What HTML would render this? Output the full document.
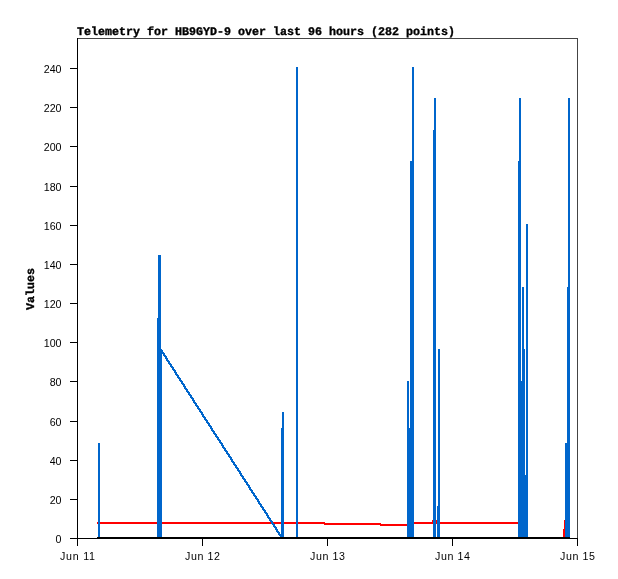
<!DOCTYPE html>
<html><head><meta charset="utf-8"><title>Telemetry for HB9GYD-9</title>
<style>
html,body{margin:0;padding:0;background:#fff;}
svg{display:block;}
.t{font-family:"Liberation Sans",sans-serif;font-size:10.67px;fill:#000;}
.b{font-family:"Liberation Mono",monospace;font-weight:bold;text-rendering:geometricPrecision;font-size:11.67px;fill:#000;stroke:#000;stroke-width:0.35px;}
</style></head><body>
<svg width="618" height="579" viewBox="0 0 618 579">
<rect x="0" y="0" width="618" height="579" fill="#fff"/>
<g shape-rendering="crispEdges">
<rect x="97" y="522" width="228" height="2" fill="#ff0000"/>
<rect x="324" y="523" width="57" height="2" fill="#ff0000"/>
<rect x="380" y="524" width="28" height="2" fill="#ff0000"/>
<rect x="413" y="522" width="106" height="2" fill="#ff0000"/>
<rect x="432" y="520" width="1" height="4" fill="#ff0000"/>
<rect x="436" y="520" width="1" height="4" fill="#ff0000"/>
<rect x="563" y="529" width="1" height="10" fill="#ff0000"/>
<rect x="564" y="520" width="1" height="19" fill="#ff0000"/>
<rect x="98" y="443" width="2" height="96" fill="#0066cc"/>
<rect x="158" y="255" width="3" height="284" fill="#0066cc"/>
<rect x="157" y="318" width="1" height="221" fill="#0066cc"/>
<rect x="161" y="349" width="1" height="190" fill="#0066cc"/>
<rect x="282" y="412" width="2" height="127" fill="#0066cc"/>
<rect x="281" y="428" width="1" height="111" fill="#0066cc"/>
<rect x="296" y="67" width="2" height="472" fill="#0066cc"/>
<rect x="412" y="67" width="2" height="472" fill="#0066cc"/>
<rect x="410" y="161" width="2" height="378" fill="#0066cc"/>
<rect x="407" y="381" width="2" height="158" fill="#0066cc"/>
<rect x="409" y="428" width="1" height="111" fill="#0066cc"/>
<rect x="434" y="98" width="2" height="441" fill="#0066cc"/>
<rect x="433" y="130" width="1" height="409" fill="#0066cc"/>
<rect x="438" y="349" width="2" height="190" fill="#0066cc"/>
<rect x="437" y="506" width="1" height="33" fill="#0066cc"/>
<rect x="519" y="98" width="2" height="441" fill="#0066cc"/>
<rect x="518" y="161" width="1" height="378" fill="#0066cc"/>
<rect x="522" y="287" width="2" height="252" fill="#0066cc"/>
<rect x="524" y="349" width="1" height="190" fill="#0066cc"/>
<rect x="521" y="381" width="1" height="158" fill="#0066cc"/>
<rect x="526" y="224" width="2" height="315" fill="#0066cc"/>
<rect x="525" y="475" width="1" height="64" fill="#0066cc"/>
<rect x="568" y="98" width="2" height="441" fill="#0066cc"/>
<rect x="567" y="287" width="1" height="252" fill="#0066cc"/>
<rect x="565" y="443" width="2" height="96" fill="#0066cc"/>
<rect x="159" y="349" width="3" height="1" fill="#0066cc"/>
<rect x="160" y="350" width="3" height="1" fill="#0066cc"/>
<rect x="161" y="351" width="2" height="1" fill="#0066cc"/>
<rect x="161" y="352" width="3" height="1" fill="#0066cc"/>
<rect x="162" y="353" width="3" height="1" fill="#0066cc"/>
<rect x="163" y="354" width="2" height="1" fill="#0066cc"/>
<rect x="163" y="355" width="3" height="1" fill="#0066cc"/>
<rect x="164" y="356" width="3" height="1" fill="#0066cc"/>
<rect x="165" y="357" width="2" height="1" fill="#0066cc"/>
<rect x="165" y="358" width="3" height="1" fill="#0066cc"/>
<rect x="166" y="359" width="2" height="1" fill="#0066cc"/>
<rect x="166" y="360" width="3" height="1" fill="#0066cc"/>
<rect x="167" y="361" width="3" height="1" fill="#0066cc"/>
<rect x="168" y="362" width="2" height="1" fill="#0066cc"/>
<rect x="168" y="363" width="3" height="1" fill="#0066cc"/>
<rect x="169" y="364" width="3" height="1" fill="#0066cc"/>
<rect x="170" y="365" width="2" height="1" fill="#0066cc"/>
<rect x="170" y="366" width="3" height="1" fill="#0066cc"/>
<rect x="171" y="367" width="3" height="1" fill="#0066cc"/>
<rect x="172" y="368" width="2" height="1" fill="#0066cc"/>
<rect x="172" y="369" width="3" height="1" fill="#0066cc"/>
<rect x="173" y="370" width="3" height="1" fill="#0066cc"/>
<rect x="174" y="371" width="2" height="1" fill="#0066cc"/>
<rect x="174" y="372" width="3" height="1" fill="#0066cc"/>
<rect x="175" y="373" width="2" height="1" fill="#0066cc"/>
<rect x="175" y="374" width="3" height="1" fill="#0066cc"/>
<rect x="176" y="375" width="3" height="1" fill="#0066cc"/>
<rect x="177" y="376" width="2" height="1" fill="#0066cc"/>
<rect x="177" y="377" width="3" height="1" fill="#0066cc"/>
<rect x="178" y="378" width="3" height="1" fill="#0066cc"/>
<rect x="179" y="379" width="2" height="1" fill="#0066cc"/>
<rect x="179" y="380" width="3" height="1" fill="#0066cc"/>
<rect x="180" y="381" width="3" height="1" fill="#0066cc"/>
<rect x="181" y="382" width="2" height="1" fill="#0066cc"/>
<rect x="181" y="383" width="3" height="1" fill="#0066cc"/>
<rect x="182" y="384" width="3" height="1" fill="#0066cc"/>
<rect x="183" y="385" width="2" height="1" fill="#0066cc"/>
<rect x="183" y="386" width="3" height="1" fill="#0066cc"/>
<rect x="184" y="387" width="2" height="1" fill="#0066cc"/>
<rect x="184" y="388" width="3" height="1" fill="#0066cc"/>
<rect x="185" y="389" width="3" height="1" fill="#0066cc"/>
<rect x="186" y="390" width="2" height="1" fill="#0066cc"/>
<rect x="186" y="391" width="3" height="1" fill="#0066cc"/>
<rect x="187" y="392" width="3" height="1" fill="#0066cc"/>
<rect x="188" y="393" width="2" height="1" fill="#0066cc"/>
<rect x="188" y="394" width="3" height="1" fill="#0066cc"/>
<rect x="189" y="395" width="3" height="1" fill="#0066cc"/>
<rect x="190" y="396" width="2" height="1" fill="#0066cc"/>
<rect x="190" y="397" width="3" height="1" fill="#0066cc"/>
<rect x="191" y="398" width="3" height="1" fill="#0066cc"/>
<rect x="192" y="399" width="2" height="1" fill="#0066cc"/>
<rect x="192" y="400" width="3" height="1" fill="#0066cc"/>
<rect x="193" y="401" width="2" height="1" fill="#0066cc"/>
<rect x="193" y="402" width="3" height="1" fill="#0066cc"/>
<rect x="194" y="403" width="3" height="1" fill="#0066cc"/>
<rect x="195" y="404" width="2" height="1" fill="#0066cc"/>
<rect x="195" y="405" width="3" height="1" fill="#0066cc"/>
<rect x="196" y="406" width="3" height="1" fill="#0066cc"/>
<rect x="197" y="407" width="2" height="1" fill="#0066cc"/>
<rect x="197" y="408" width="3" height="1" fill="#0066cc"/>
<rect x="198" y="409" width="3" height="1" fill="#0066cc"/>
<rect x="199" y="410" width="2" height="1" fill="#0066cc"/>
<rect x="199" y="411" width="3" height="1" fill="#0066cc"/>
<rect x="200" y="412" width="3" height="1" fill="#0066cc"/>
<rect x="201" y="413" width="2" height="1" fill="#0066cc"/>
<rect x="201" y="414" width="3" height="1" fill="#0066cc"/>
<rect x="202" y="415" width="2" height="1" fill="#0066cc"/>
<rect x="202" y="416" width="3" height="1" fill="#0066cc"/>
<rect x="203" y="417" width="3" height="1" fill="#0066cc"/>
<rect x="204" y="418" width="2" height="1" fill="#0066cc"/>
<rect x="204" y="419" width="3" height="1" fill="#0066cc"/>
<rect x="205" y="420" width="3" height="1" fill="#0066cc"/>
<rect x="206" y="421" width="2" height="1" fill="#0066cc"/>
<rect x="206" y="422" width="3" height="1" fill="#0066cc"/>
<rect x="207" y="423" width="3" height="1" fill="#0066cc"/>
<rect x="208" y="424" width="2" height="1" fill="#0066cc"/>
<rect x="208" y="425" width="3" height="1" fill="#0066cc"/>
<rect x="209" y="426" width="3" height="1" fill="#0066cc"/>
<rect x="210" y="427" width="2" height="1" fill="#0066cc"/>
<rect x="210" y="428" width="3" height="1" fill="#0066cc"/>
<rect x="211" y="429" width="2" height="1" fill="#0066cc"/>
<rect x="211" y="430" width="3" height="1" fill="#0066cc"/>
<rect x="212" y="431" width="3" height="1" fill="#0066cc"/>
<rect x="213" y="432" width="2" height="1" fill="#0066cc"/>
<rect x="213" y="433" width="3" height="1" fill="#0066cc"/>
<rect x="214" y="434" width="3" height="1" fill="#0066cc"/>
<rect x="215" y="435" width="2" height="1" fill="#0066cc"/>
<rect x="215" y="436" width="3" height="1" fill="#0066cc"/>
<rect x="216" y="437" width="3" height="1" fill="#0066cc"/>
<rect x="217" y="438" width="2" height="1" fill="#0066cc"/>
<rect x="217" y="439" width="3" height="1" fill="#0066cc"/>
<rect x="218" y="440" width="3" height="1" fill="#0066cc"/>
<rect x="219" y="441" width="2" height="1" fill="#0066cc"/>
<rect x="219" y="442" width="3" height="1" fill="#0066cc"/>
<rect x="220" y="443" width="3" height="1" fill="#0066cc"/>
<rect x="221" y="444" width="2" height="1" fill="#0066cc"/>
<rect x="221" y="445" width="3" height="1" fill="#0066cc"/>
<rect x="222" y="446" width="2" height="1" fill="#0066cc"/>
<rect x="222" y="447" width="3" height="1" fill="#0066cc"/>
<rect x="223" y="448" width="3" height="1" fill="#0066cc"/>
<rect x="224" y="449" width="2" height="1" fill="#0066cc"/>
<rect x="224" y="450" width="3" height="1" fill="#0066cc"/>
<rect x="225" y="451" width="3" height="1" fill="#0066cc"/>
<rect x="226" y="452" width="2" height="1" fill="#0066cc"/>
<rect x="226" y="453" width="3" height="1" fill="#0066cc"/>
<rect x="227" y="454" width="3" height="1" fill="#0066cc"/>
<rect x="228" y="455" width="2" height="1" fill="#0066cc"/>
<rect x="228" y="456" width="3" height="1" fill="#0066cc"/>
<rect x="229" y="457" width="3" height="1" fill="#0066cc"/>
<rect x="230" y="458" width="2" height="1" fill="#0066cc"/>
<rect x="230" y="459" width="3" height="1" fill="#0066cc"/>
<rect x="231" y="460" width="2" height="1" fill="#0066cc"/>
<rect x="231" y="461" width="3" height="1" fill="#0066cc"/>
<rect x="232" y="462" width="3" height="1" fill="#0066cc"/>
<rect x="233" y="463" width="2" height="1" fill="#0066cc"/>
<rect x="233" y="464" width="3" height="1" fill="#0066cc"/>
<rect x="234" y="465" width="3" height="1" fill="#0066cc"/>
<rect x="235" y="466" width="2" height="1" fill="#0066cc"/>
<rect x="235" y="467" width="3" height="1" fill="#0066cc"/>
<rect x="236" y="468" width="3" height="1" fill="#0066cc"/>
<rect x="237" y="469" width="2" height="1" fill="#0066cc"/>
<rect x="237" y="470" width="3" height="1" fill="#0066cc"/>
<rect x="238" y="471" width="3" height="1" fill="#0066cc"/>
<rect x="239" y="472" width="2" height="1" fill="#0066cc"/>
<rect x="239" y="473" width="3" height="1" fill="#0066cc"/>
<rect x="240" y="474" width="2" height="1" fill="#0066cc"/>
<rect x="240" y="475" width="3" height="1" fill="#0066cc"/>
<rect x="241" y="476" width="3" height="1" fill="#0066cc"/>
<rect x="242" y="477" width="2" height="1" fill="#0066cc"/>
<rect x="242" y="478" width="3" height="1" fill="#0066cc"/>
<rect x="243" y="479" width="3" height="1" fill="#0066cc"/>
<rect x="244" y="480" width="2" height="1" fill="#0066cc"/>
<rect x="244" y="481" width="3" height="1" fill="#0066cc"/>
<rect x="245" y="482" width="3" height="1" fill="#0066cc"/>
<rect x="246" y="483" width="2" height="1" fill="#0066cc"/>
<rect x="246" y="484" width="3" height="1" fill="#0066cc"/>
<rect x="247" y="485" width="3" height="1" fill="#0066cc"/>
<rect x="248" y="486" width="2" height="1" fill="#0066cc"/>
<rect x="248" y="487" width="3" height="1" fill="#0066cc"/>
<rect x="249" y="488" width="2" height="1" fill="#0066cc"/>
<rect x="249" y="489" width="3" height="1" fill="#0066cc"/>
<rect x="250" y="490" width="3" height="1" fill="#0066cc"/>
<rect x="251" y="491" width="2" height="1" fill="#0066cc"/>
<rect x="251" y="492" width="3" height="1" fill="#0066cc"/>
<rect x="252" y="493" width="3" height="1" fill="#0066cc"/>
<rect x="253" y="494" width="2" height="1" fill="#0066cc"/>
<rect x="253" y="495" width="3" height="1" fill="#0066cc"/>
<rect x="254" y="496" width="3" height="1" fill="#0066cc"/>
<rect x="255" y="497" width="2" height="1" fill="#0066cc"/>
<rect x="255" y="498" width="3" height="1" fill="#0066cc"/>
<rect x="256" y="499" width="3" height="1" fill="#0066cc"/>
<rect x="257" y="500" width="2" height="1" fill="#0066cc"/>
<rect x="257" y="501" width="3" height="1" fill="#0066cc"/>
<rect x="258" y="502" width="2" height="1" fill="#0066cc"/>
<rect x="258" y="503" width="3" height="1" fill="#0066cc"/>
<rect x="259" y="504" width="3" height="1" fill="#0066cc"/>
<rect x="260" y="505" width="2" height="1" fill="#0066cc"/>
<rect x="260" y="506" width="3" height="1" fill="#0066cc"/>
<rect x="261" y="507" width="3" height="1" fill="#0066cc"/>
<rect x="262" y="508" width="2" height="1" fill="#0066cc"/>
<rect x="262" y="509" width="3" height="1" fill="#0066cc"/>
<rect x="263" y="510" width="3" height="1" fill="#0066cc"/>
<rect x="264" y="511" width="2" height="1" fill="#0066cc"/>
<rect x="264" y="512" width="3" height="1" fill="#0066cc"/>
<rect x="265" y="513" width="3" height="1" fill="#0066cc"/>
<rect x="266" y="514" width="2" height="1" fill="#0066cc"/>
<rect x="266" y="515" width="3" height="1" fill="#0066cc"/>
<rect x="267" y="516" width="2" height="1" fill="#0066cc"/>
<rect x="267" y="517" width="3" height="1" fill="#0066cc"/>
<rect x="268" y="518" width="3" height="1" fill="#0066cc"/>
<rect x="269" y="519" width="2" height="1" fill="#0066cc"/>
<rect x="269" y="520" width="3" height="1" fill="#0066cc"/>
<rect x="270" y="521" width="3" height="1" fill="#0066cc"/>
<rect x="271" y="522" width="2" height="1" fill="#0066cc"/>
<rect x="271" y="523" width="3" height="1" fill="#0066cc"/>
<rect x="272" y="524" width="3" height="1" fill="#0066cc"/>
<rect x="273" y="525" width="2" height="1" fill="#0066cc"/>
<rect x="273" y="526" width="3" height="1" fill="#0066cc"/>
<rect x="274" y="527" width="3" height="1" fill="#0066cc"/>
<rect x="275" y="528" width="2" height="1" fill="#0066cc"/>
<rect x="275" y="529" width="3" height="1" fill="#0066cc"/>
<rect x="276" y="530" width="2" height="1" fill="#0066cc"/>
<rect x="276" y="531" width="3" height="1" fill="#0066cc"/>
<rect x="277" y="532" width="3" height="1" fill="#0066cc"/>
<rect x="278" y="533" width="2" height="1" fill="#0066cc"/>
<rect x="278" y="534" width="3" height="1" fill="#0066cc"/>
<rect x="279" y="535" width="3" height="1" fill="#0066cc"/>
<rect x="280" y="536" width="2" height="1" fill="#0066cc"/>
<rect x="280" y="537" width="3" height="1" fill="#0066cc"/>
<rect x="281" y="538" width="3" height="1" fill="#0066cc"/>
<rect x="97" y="537" width="473" height="2" fill="#000000"/>
<rect x="77" y="38" width="501" height="1" fill="#444444"/>
<rect x="577" y="38" width="1" height="501" fill="#444444"/>
<rect x="77" y="538" width="501" height="1" fill="#000000"/>
<rect x="77" y="38" width="1" height="508" fill="#000000"/>
<rect x="577" y="538" width="1" height="8" fill="#000000"/>
<rect x="70" y="538" width="8" height="1" fill="#000000"/>
<rect x="70" y="499" width="8" height="1" fill="#000000"/>
<rect x="70" y="460" width="8" height="1" fill="#000000"/>
<rect x="70" y="421" width="8" height="1" fill="#000000"/>
<rect x="70" y="381" width="8" height="1" fill="#000000"/>
<rect x="70" y="342" width="8" height="1" fill="#000000"/>
<rect x="70" y="303" width="8" height="1" fill="#000000"/>
<rect x="70" y="264" width="8" height="1" fill="#000000"/>
<rect x="70" y="225" width="8" height="1" fill="#000000"/>
<rect x="70" y="186" width="8" height="1" fill="#000000"/>
<rect x="70" y="146" width="8" height="1" fill="#000000"/>
<rect x="70" y="107" width="8" height="1" fill="#000000"/>
<rect x="70" y="68" width="8" height="1" fill="#000000"/>
<rect x="77" y="538" width="1" height="8" fill="#000000"/>
<rect x="202" y="538" width="1" height="8" fill="#000000"/>
<rect x="327" y="538" width="1" height="8" fill="#000000"/>
<rect x="452" y="538" width="1" height="8" fill="#000000"/>
<rect x="577" y="538" width="1" height="8" fill="#000000"/>
</g>
<g>
<text x="61.5" y="542.6" text-anchor="end" class="t">0</text>
<text x="61.5" y="503.6" text-anchor="end" class="t">20</text>
<text x="61.5" y="464.6" text-anchor="end" class="t">40</text>
<text x="61.5" y="425.6" text-anchor="end" class="t">60</text>
<text x="61.5" y="385.6" text-anchor="end" class="t">80</text>
<text x="61.5" y="346.6" text-anchor="end" class="t">100</text>
<text x="61.5" y="307.6" text-anchor="end" class="t">120</text>
<text x="61.5" y="268.6" text-anchor="end" class="t">140</text>
<text x="61.5" y="229.6" text-anchor="end" class="t">160</text>
<text x="61.5" y="190.6" text-anchor="end" class="t">180</text>
<text x="61.5" y="150.6" text-anchor="end" class="t">200</text>
<text x="61.5" y="111.6" text-anchor="end" class="t">220</text>
<text x="61.5" y="72.6" text-anchor="end" class="t">240</text>
<text x="77.5" y="560" text-anchor="middle" class="t" textLength="35" lengthAdjust="spacing">Jun 11</text>
<text x="202.5" y="560" text-anchor="middle" class="t" textLength="35" lengthAdjust="spacing">Jun 12</text>
<text x="327.5" y="560" text-anchor="middle" class="t" textLength="35" lengthAdjust="spacing">Jun 13</text>
<text x="452.5" y="560" text-anchor="middle" class="t" textLength="35" lengthAdjust="spacing">Jun 14</text>
<text x="577.5" y="560" text-anchor="middle" class="t" textLength="35" lengthAdjust="spacing">Jun 15</text>
<text transform="translate(77,35)" class="b" textLength="378" lengthAdjust="spacing">Telemetry for HB9GYD-9 over last 96 hours (282 points)</text>
<text transform="translate(34.4,310) rotate(-90)" class="b" textLength="42" lengthAdjust="spacing">Values</text>
</g>
</svg>
</body></html>
